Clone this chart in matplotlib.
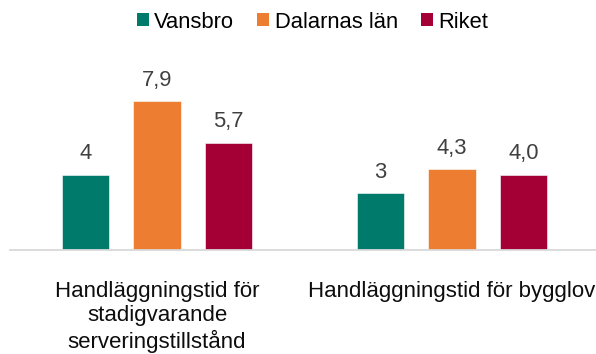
import matplotlib
matplotlib.use("Agg")
import matplotlib.pyplot as plt
from matplotlib.patches import Patch
import numpy as np

plt.rcParams["font.family"] = ["Liberation Sans", "DejaVu Sans"]

categories = ["Handläggningstid för\nstadigvarande\nserveringstillstånd",
              "Handläggningstid för bygglov"]
series = ["Vansbro", "Dalarnas län", "Riket"]
vansbro = [4, 3]
dalarnas = [7.9, 4.3]
riket = [5.7, 4.0]
value_labels = [["4", "3"], ["7,9", "4,3"], ["5,7", "4,0"]]
colors = ["#007A6B", "#ED7D31", "#A50036"]

W, H = 596, 354
fig = plt.figure(figsize=(W / 100, H / 100), dpi=100)
ax = fig.add_axes([9.5 / W, (H - 250) / H, 590 / W, 169.65 / H])

x = np.arange(len(categories))
bar_w = 0.161
step = 0.242
for i, (vals, col) in enumerate(zip([vansbro, dalarnas, riket], colors)):
    pos = x + (i - 1) * step
    ax.bar(pos, vals, width=bar_w, color=col, edgecolor="white", linewidth=0.4)
    for xp, v, lab in zip(pos, vals, value_labels[i]):
        ax.annotate(lab, (xp, v), xytext=(0, 11), textcoords="offset points",
                    ha="center", va="baseline", fontsize=15.8,
                    color="#404040")

ax.set_xlim(-0.5, 1.5)
ax.set_ylim(0, 9)
ax.set_yticks([])
for s in ["top", "left", "right"]:
    ax.spines[s].set_visible(False)
ax.spines["bottom"].set_color("#D9D9D9")
ax.spines["bottom"].set_linewidth(1.3)
ax.set_xticks(x)
ax.set_xticklabels(categories, fontsize=16, color="#0D0D0D",
                   linespacing=1.2)
ax.tick_params(axis="x", length=0, pad=22)

handles = [Patch(facecolor=c, edgecolor="none") for c in colors]
fig.legend(handles, series, loc="center", bbox_to_anchor=(312.5 / W, 1 - 22 / H),
           ncol=3, frameon=False, fontsize=15.8, handlelength=0.55,
           handleheight=0.55, handletextpad=0.25, columnspacing=1.05,
           borderaxespad=0, borderpad=0)

fig.savefig("out.png", dpi=100)
